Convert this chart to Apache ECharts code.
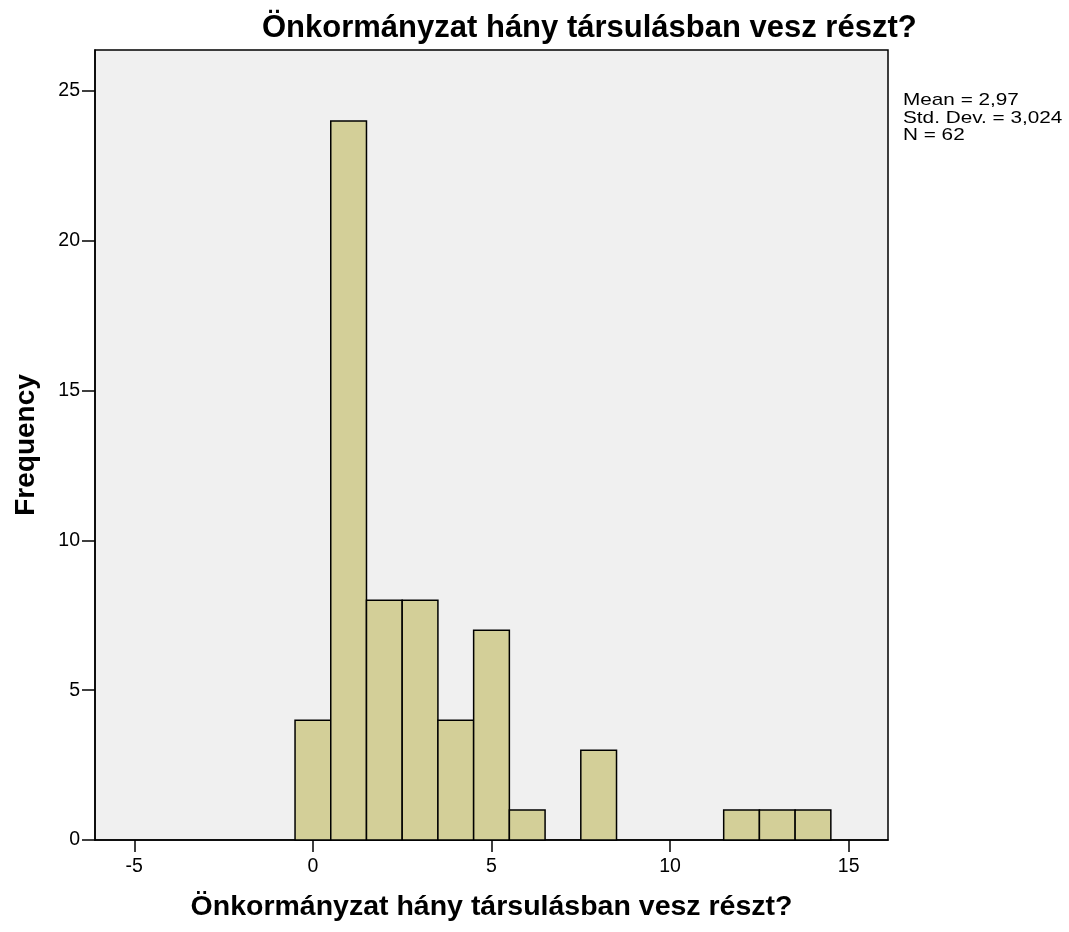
<!DOCTYPE html>
<html>
<head>
<meta charset="utf-8">
<script src="https://cdn.jsdelivr.net/npm/echarts@6/dist/echarts.min.js"></script>
<style>
  html, body { margin: 0; padding: 0; background: #fff; }
  #hist { width: 1069px; height: 932px; }
</style>
</head>
<body>
<div id="hist"></div>
<script>
// bin centres (width 1) and their frequencies
var binCenters = [0, 1, 2, 3, 4, 5, 6, 8, 12, 13, 14];
var frequencies = [4, 24, 8, 8, 4, 7, 1, 3, 1, 1, 1];
var xTicks = [-5, 0, 5, 10, 15];
var yTicks = [0, 5, 10, 15, 20, 25];
var statsLines = ["Mean = 2,97", "Std. Dev. = 3,024", "N = 62"];

var titleText = "Önkormányzat hány társulásban vesz részt?";

var binData = binCenters.map(function (c, i) {
  return [c - 0.5, c + 0.5, frequencies[i]];
});

var chart = echarts.init(document.getElementById("hist"));

var option = {
  animation: false,
  backgroundColor: "#ffffff",
  title: {
    text: titleText,
    left: 257,
    top: 8,
    textStyle: {
      fontFamily: "Liberation Sans",
      fontWeight: "bold",
      fontSize: 31,
      color: "#000"
    }
  },
  grid: {
    left: 95,
    right: 181,
    top: 50,
    bottom: 92,
    show: true,
    backgroundColor: "#f0f0f0",
    borderColor: "#000",
    borderWidth: 1.5
  },
  xAxis: {
    type: "value",
    min: -6.1,
    max: 16.1,
    name: titleText,
    nameLocation: "middle",
    nameGap: 53,
    nameTextStyle: {
      fontFamily: "Liberation Sans",
      fontWeight: "bold",
      fontSize: 28.5,
      color: "#000"
    },
    splitLine: { show: false },
    axisLine: { show: true, onZero: false, lineStyle: { color: "#000", width: 1.5 } },
    axisTick: {
      show: true,
      length: 12,
      customValues: xTicks,
      lineStyle: { color: "#000", width: 1.5 }
    },
    axisLabel: {
      customValues: xTicks,
      margin: 17,
      fontFamily: "Liberation Sans",
      fontSize: 19.5,
      color: "#000"
    }
  },
  yAxis: {
    type: "value",
    min: 0,
    max: 26.37,
    name: "Frequency",
    nameLocation: "middle",
    nameGap: 55,
    nameTextStyle: {
      fontFamily: "Liberation Sans",
      fontWeight: "bold",
      fontSize: 28,
      color: "#000"
    },
    splitLine: { show: false },
    axisLine: { show: true, onZero: false, lineStyle: { color: "#000", width: 1.5 } },
    axisTick: {
      show: true,
      length: 13,
      customValues: yTicks,
      lineStyle: { color: "#000", width: 1.5 }
    },
    axisLabel: {
      customValues: yTicks,
      margin: 15,
      fontFamily: "Liberation Sans",
      fontSize: 19.5,
      color: "#000"
    }
  },
  graphic: [
    {
      type: "text",
      left: 903,
      top: 92,
      scaleX: 1.22,
      style: {
        text: statsLines.join("\n"),
        fontFamily: "Liberation Sans",
        fontSize: 17,
        lineHeight: 17.5,
        fill: "#000"
      }
    }
  ],
  series: [
    {
      type: "custom",
      data: binData,
      encode: { x: [0, 1], y: 2 },
      renderItem: function (params, api) {
        var p1 = api.coord([api.value(0), api.value(2)]);
        var p2 = api.coord([api.value(1), 0]);
        return {
          type: "rect",
          shape: { x: p1[0], y: p1[1], width: p2[0] - p1[0], height: p2[1] - p1[1] },
          style: { fill: "#d3cf98", stroke: "#000", lineWidth: 1.5 }
        };
      }
    }
  ]
};

chart.setOption(option);
</script>
</body>
</html>
